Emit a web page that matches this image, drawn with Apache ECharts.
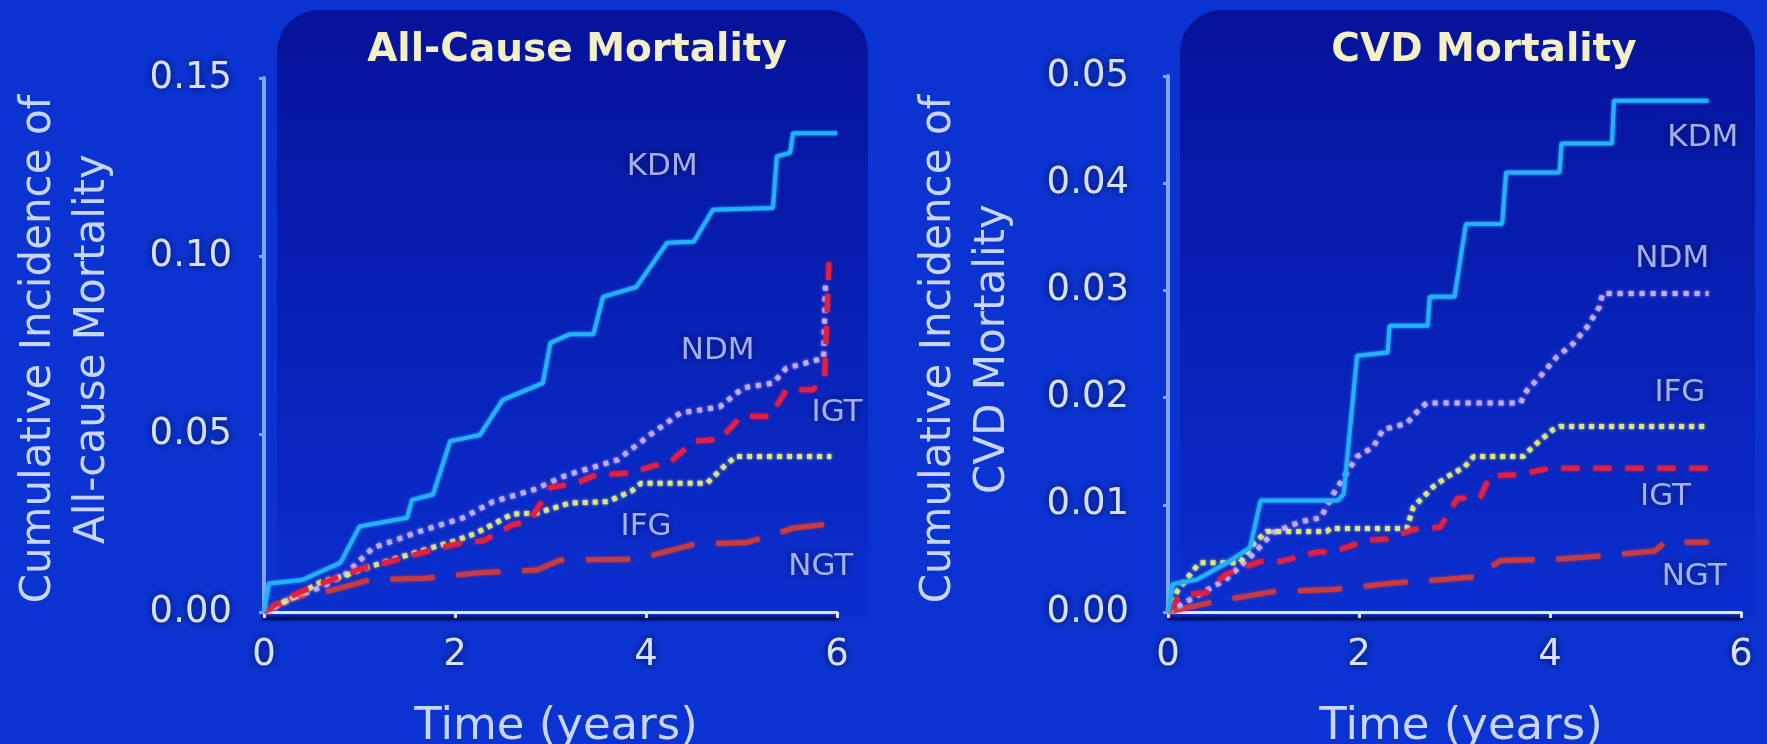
<!DOCTYPE html>
<html>
<head>
<meta charset="utf-8">
<script src="https://cdn.jsdelivr.net/npm/echarts@6/dist/echarts.min.js"></script>
<style>
  html, body { margin: 0; padding: 0; background: #0b33d0; }
  #chart { width: 1767px; height: 744px; }
</style>
</head>
<body>
<div id="chart"></div>
<script>
// ---- Data: cumulative incidence by glucose-tolerance group ([years, incidence]) ----
const groups = ['KDM', 'NDM', 'IFG', 'IGT', 'NGT'];

// All-cause mortality
const allKDM = [[0,0],[0.05,0.008],[0.4,0.009],[0.8,0.0138],[1.0,0.024],[1.5,0.0265],[1.55,0.0315],[1.77,0.033],[1.95,0.048],[2.26,0.0497],[2.5,0.0596],[2.92,0.0643],[3.0,0.0756],[3.2,0.078],[3.45,0.078],[3.55,0.0885],[3.9,0.0913],[4.22,0.1037],[4.5,0.104],[4.7,0.113],[5.33,0.1135],[5.37,0.128],[5.51,0.129],[5.54,0.1345],[6.0,0.1345]];
const allNDM = [[0,0],[0.3,0.004],[0.6,0.007],[0.85,0.0105],[1.14,0.018],[1.67,0.023],[2.08,0.0264],[2.4,0.031],[2.82,0.0343],[3.13,0.038],[3.24,0.039],[3.7,0.0427],[4.04,0.0497],[4.36,0.0559],[4.77,0.0576],[5.02,0.063],[5.33,0.0643],[5.47,0.0685],[5.79,0.0708],[5.86,0.0715],[5.88,0.093]];
const allIFG = [[0,0],[0.3,0.004],[0.6,0.0085],[0.87,0.0104],[1.0,0.0118],[1.5,0.016],[2.0,0.020],[2.21,0.022],[2.6,0.0275],[2.86,0.0278],[3.2,0.0306],[3.6,0.031],[3.85,0.034],[3.95,0.0362],[4.64,0.0362],[4.81,0.0407],[4.94,0.0437],[5.94,0.0437]];
const allIGT = [[0,0],[0.2,0.0034],[0.5,0.007],[1.0,0.012],[1.38,0.0146],[1.7,0.017],[2.0,0.019],[2.3,0.020],[2.6,0.0245],[2.78,0.0255],[3.0,0.035],[3.25,0.036],[3.48,0.0385],[3.83,0.039],[4.07,0.041],[4.25,0.042],[4.5,0.048],[4.77,0.0485],[5.0,0.055],[5.3,0.055],[5.47,0.0624],[5.75,0.0624],[5.87,0.066],[5.92,0.101]];
const allNGT = [[0,0],[0.3,0.004],[0.7,0.006],[1.1,0.009],[1.7,0.0095],[2.25,0.011],[2.86,0.0118],[3.1,0.0146],[3.9,0.0148],[4.5,0.019],[5.05,0.0195],[5.55,0.0236],[6.0,0.025]];

// CVD mortality
const cvdKDM = [[0,0],[0.05,0.0026],[0.3,0.003],[0.6,0.0045],[0.86,0.006],[0.97,0.0104],[1.78,0.0104],[1.84,0.011],[1.98,0.0239],[2.3,0.0242],[2.32,0.0267],[2.72,0.0267],[2.74,0.0294],[3.0,0.0294],[3.12,0.0362],[3.5,0.0362],[3.54,0.041],[4.1,0.041],[4.12,0.0437],[4.65,0.0437],[4.67,0.0477],[5.66,0.0477]];
const cvdNDM = [[0,0],[0.3,0.0015],[0.6,0.003],[0.85,0.005],[1.1,0.0074],[1.38,0.0084],[1.6,0.0088],[1.73,0.011],[1.98,0.0145],[2.15,0.0154],[2.25,0.017],[2.5,0.0176],[2.64,0.019],[2.71,0.0195],[3.69,0.0195],[3.76,0.0207],[3.93,0.0223],[4.07,0.0238],[4.24,0.025],[4.39,0.0266],[4.52,0.0285],[4.55,0.0297],[5.66,0.0297]];
const cvdIFG = [[0,0],[0.1,0.002],[0.33,0.0046],[0.75,0.0046],[0.9,0.0064],[1.03,0.0075],[1.66,0.0075],[1.7,0.0078],[2.5,0.0078],[2.57,0.0098],[2.78,0.0117],[2.92,0.0126],[3.1,0.0135],[3.2,0.0145],[3.72,0.0145],[3.82,0.0154],[4.03,0.017],[4.1,0.0173],[5.66,0.0173]];
const cvdIGT = [[0,0],[0.13,0.0016],[0.4,0.0018],[0.6,0.0035],[0.96,0.0047],[1.17,0.0047],[1.56,0.0056],[1.73,0.0056],[2.08,0.0067],[2.3,0.0068],[2.57,0.0077],[2.85,0.0079],[3.03,0.0106],[3.27,0.0107],[3.37,0.0127],[3.65,0.0128],[4.0,0.0134],[5.66,0.0134]];
const cvdNGT = [[0,0],[0.5,0.001],[1.1,0.0019],[1.73,0.0021],[2.36,0.0027],[2.85,0.003],[3.23,0.0033],[3.48,0.0048],[4.03,0.0049],[4.63,0.0053],[5.1,0.0057],[5.2,0.0065],[5.66,0.0065]];

// Where each group name is written, in data units [years, incidence]
const allLabelAt = { KDM: [4.17, 0.125], NDM: [4.75, 0.0733], IGT: [6.0, 0.0559], IFG: [4.0, 0.0239], NGT: [5.83, 0.0126] };
const cvdLabelAt = { KDM: [5.60, 0.0442], NDM: [5.28, 0.0329], IFG: [5.36, 0.0204], IGT: [5.21, 0.0107], NGT: [5.51, 0.0033] };

// Axis ranges / ticks
const xMax = 6, xStep = 2;
const allYMax = 0.15, allYStep = 0.05;
const cvdYMax = 0.05, cvdYStep = 0.01;

const panelTitles = ['All-Cause Mortality', 'CVD Mortality'];
const yTitles = [['Cumulative Incidence of', 'All-cause Mortality'], ['Cumulative Incidence of', 'CVD Mortality']];
const xTitle = 'Time (years)';

// ---- Styling ----
const FONT = '"DejaVu Sans", Verdana, sans-serif';
const styles = {
  KDM: { color: '#22b2ff', width: 4, type: 'solid', z: 6 },
  NDM: { color: '#c2aaff', width: 5, type: [5, 6], z: 3 },
  IFG: { color: '#dde47a', width: 5, type: [5, 5], z: 4 },
  IGT: { color: '#e41e3e', width: 5, type: [18, 14], z: 5 },
  NGT: { color: '#c83a3e', width: 5, type: [44, 22], z: 2 }
};
const textShadow = { textShadowColor: 'rgba(0,8,70,0.95)', textShadowBlur: 8 };

const allData = { KDM: allKDM, NDM: allNDM, IFG: allIFG, IGT: allIGT, NGT: allNGT };
const cvdData = { KDM: cvdKDM, NDM: cvdNDM, IFG: cvdIFG, IGT: cvdIGT, NGT: cvdNGT };

function lineSeries(dataMap, axisIndex) {
  return ['NGT', 'NDM', 'IFG', 'IGT', 'KDM'].map(g => ({
    type: 'line',
    name: g,
    xAxisIndex: axisIndex,
    yAxisIndex: axisIndex,
    data: dataMap[g],
    symbol: 'none',
    z: styles[g].z,
    silent: true,
    lineStyle: {
      color: styles[g].color,
      width: styles[g].width,
      type: styles[g].type,
      cap: 'butt',
      shadowColor: styles[g].color,
      shadowBlur: 3
    }
  }));
}

function labelSeries(labelMap, axisIndex) {
  return {
    type: 'scatter',
    xAxisIndex: axisIndex,
    yAxisIndex: axisIndex,
    symbolSize: 1,
    itemStyle: { color: 'rgba(0,0,0,0)' },
    silent: true,
    z: 8,
    data: groups.map(g => [labelMap[g][0], labelMap[g][1], g]),
    label: {
      show: true,
      position: 'inside',
      formatter: p => p.value[2],
      color: '#ccd6ff',
      fontFamily: FONT,
      fontSize: 31,
      ...textShadow
    }
  };
}

function xAxis(gridIndex) {
  return {
    type: 'value', gridIndex, min: 0, max: xMax, interval: xStep,
    splitLine: { show: false },
    axisLine: { show: true, lineStyle: { color: '#e4e6ff', width: 3, shadowColor: 'rgba(0,4,40,0.95)', shadowOffsetY: 6, shadowBlur: 3 } },
    axisTick: { show: true, length: 6, lineStyle: { color: '#e4e6ff', width: 3 } },
    axisLabel: { color: '#d8e2ff', fontFamily: FONT, fontSize: 37, margin: 25, ...textShadow }
  };
}

function yAxis(gridIndex, max, step, offset) {
  return {
    type: 'value', gridIndex, min: 0, max, interval: step, offset,
    splitLine: { show: false },
    axisLine: { show: true, lineStyle: { color: '#7fa6ff', width: 4 } },
    axisTick: { show: true, length: 5, lineStyle: { color: '#7fa6ff', width: 3 } },
    axisLabel: { color: '#d8e2ff', fontFamily: FONT, fontSize: 37, margin: 18, formatter: v => v.toFixed(2), ...textShadow }
  };
}

function panel(x, width) {
  return {
    type: 'rect', z: -10, silent: true,
    shape: { x, y: 10, width, height: 612, r: [42, 42, 0, 0] },
    style: {
      fill: new echarts.graphic.LinearGradient(0, 0, 0, 1, [
        { offset: 0, color: '#06129a' },
        { offset: 0.55, color: '#0822b8' },
        { offset: 1, color: '#0b2fd0' }
      ])
    }
  };
}

function titleText(text, x) {
  return {
    type: 'text', z: 10, silent: true, x, y: 51,
    style: {
      text, fill: '#f3efc6', font: 'bold 39px ' + FONT, align: 'center', verticalAlign: 'middle',
      shadowColor: 'rgba(0,0,30,1)', shadowBlur: 6
    }
  };
}

function yTitle(lines, x) {
  return {
    type: 'text', z: 10, silent: true, x, y: 349, rotation: Math.PI / 2,
    style: {
      text: lines.join('\n'), fill: '#c8d6ff', font: '42px ' + FONT, lineHeight: 54,
      align: 'center', verticalAlign: 'middle'
    }
  };
}

function xTitleText(x) {
  return {
    type: 'text', z: 10, silent: true, x, y: 727,
    style: { text: xTitle, fill: '#c8d6ff', font: '45px ' + FONT, align: 'center', verticalAlign: 'middle' }
  };
}

const chart = echarts.init(document.getElementById('chart'), null, { renderer: 'canvas' });
chart.setOption({
  backgroundColor: '#0b33d2',
  animation: false,
  grid: [
    { left: 264, top: 78, width: 573, height: 534 },
    { left: 1168, top: 76, width: 573, height: 536 }
  ],
  xAxis: [xAxis(0), xAxis(1)],
  yAxis: [yAxis(0, allYMax, allYStep, 14), yAxis(1, cvdYMax, cvdYStep, 21)],
  graphic: [
    panel(277, 591),
    panel(1180, 575),
    titleText(panelTitles[0], 577),
    titleText(panelTitles[1], 1484),
    yTitle(yTitles[0], 66),
    yTitle(yTitles[1], 966),
    xTitleText(556),
    xTitleText(1461)
  ],
  series: [
    ...lineSeries(allData, 0),
    labelSeries(allLabelAt, 0),
    ...lineSeries(cvdData, 1),
    labelSeries(cvdLabelAt, 1)
  ]
});
</script>
</body>
</html>
